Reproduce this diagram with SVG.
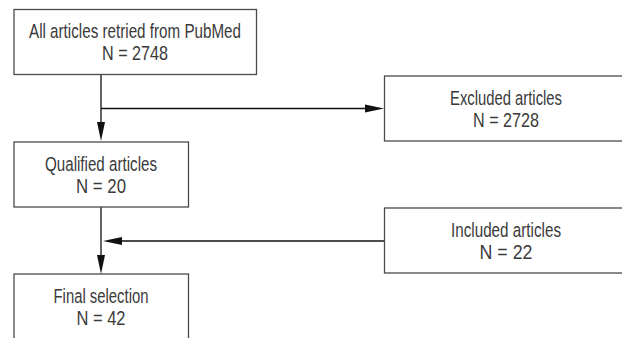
<svg xmlns="http://www.w3.org/2000/svg" width="622" height="338" viewBox="0 0 622 338">
<style>
.box{fill:#fff;stroke:#4a4a4a;stroke-width:1.3}
.t{font-family:"Liberation Sans Narrow","Liberation Sans",sans-serif;font-size:20.5px;fill:#3a3a3a;text-anchor:middle}
.ln{stroke:#111;stroke-width:1.3;fill:none}
.ah{fill:#111}
</style>
<rect width="622" height="338" fill="#fff"/>
<g id="connectors">
<line class="ln" x1="101" y1="75" x2="101" y2="124"/>
<polygon class="ah" points="97,122 105,122 101,141"/>
<line class="ln" x1="101" y1="108.5" x2="367" y2="108.5"/>
<polygon class="ah" points="365,104.5 365,112.5 384,108.5"/>
<line class="ln" x1="101" y1="207" x2="101" y2="257"/>
<polygon class="ah" points="97,255 105,255 101,274"/>
<line class="ln" x1="120" y1="241" x2="384" y2="241"/>
<polygon class="ah" points="122,237 122,245 103,241"/>
</g>
<g id="n1">
<rect class="box" x="14" y="9.5" width="242.5" height="65"/>
<text class="t" x="135" y="37.5" textLength="212" lengthAdjust="spacingAndGlyphs">All articles retried from PubMed</text>
<text class="t" x="135" y="59.5" textLength="66" lengthAdjust="spacingAndGlyphs">N = 2748</text>
</g>
<g id="n2">
<rect class="box" x="384.5" y="76" width="250" height="65"/>
<text class="t" x="506" y="104.5" textLength="112" lengthAdjust="spacingAndGlyphs">Excluded articles</text>
<text class="t" x="506" y="126.5" textLength="66" lengthAdjust="spacingAndGlyphs">N = 2728</text>
</g>
<g id="n3">
<rect class="box" x="14" y="142" width="174.5" height="65"/>
<text class="t" x="101" y="170.5" textLength="112" lengthAdjust="spacingAndGlyphs">Qualified articles</text>
<text class="t" x="101" y="192.5" textLength="50" lengthAdjust="spacingAndGlyphs">N = 20</text>
</g>
<g id="n4">
<rect class="box" x="384.5" y="208" width="250" height="65"/>
<text class="t" x="506" y="236.5" textLength="110" lengthAdjust="spacingAndGlyphs">Included articles</text>
<text class="t" x="506" y="258.5" textLength="53" lengthAdjust="spacingAndGlyphs">N = 22</text>
</g>
<g id="n5">
<rect class="box" x="14" y="274" width="174.5" height="80"/>
<text class="t" x="101" y="302.5" textLength="95" lengthAdjust="spacingAndGlyphs">Final selection</text>
<text class="t" x="101" y="324.5" textLength="49" lengthAdjust="spacingAndGlyphs">N = 42</text>
</g>
</svg>
